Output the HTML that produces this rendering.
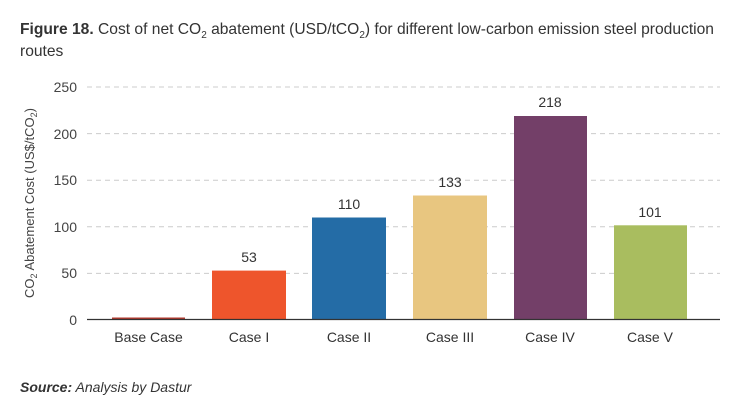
<!DOCTYPE html>
<html><head><meta charset="utf-8"><style>
html,body{margin:0;padding:0;background:#fff;}
svg{display:block;font-family:"Liberation Sans",sans-serif;}
</style></head><body>
<svg width="743" height="414" viewBox="0 0 743 414" xmlns="http://www.w3.org/2000/svg">
<text x="20" y="34" font-size="15.6" fill="#333" textLength="694" lengthAdjust="spacingAndGlyphs"><tspan font-weight="bold">Figure 18.</tspan> Cost of net CO<tspan font-size="10" dy="4">2</tspan><tspan dy="-4"> abatement (USD/tCO</tspan><tspan font-size="10" dy="4">2</tspan><tspan dy="-4">) for different low-carbon emission steel production</tspan></text>
<text x="20" y="56" font-size="15.6" fill="#333">routes</text>
<g stroke="#ccc" stroke-dasharray="5,4" stroke-width="1">
<line x1="87" x2="720" y1="87" y2="87"/>
<line x1="87" x2="720" y1="133.6" y2="133.6"/>
<line x1="87" x2="720" y1="180.2" y2="180.2"/>
<line x1="87" x2="720" y1="226.8" y2="226.8"/>
<line x1="87" x2="720" y1="273.4" y2="273.4"/>
</g>
<g font-size="14" fill="#444" text-anchor="end">
<text x="77" y="92">250</text>
<text x="77" y="139">200</text>
<text x="77" y="185">150</text>
<text x="77" y="232">100</text>
<text x="77" y="278">50</text>
<text x="77" y="325">0</text>
</g>
<text transform="translate(34,203) rotate(-90)" font-size="13" fill="#444" text-anchor="middle">CO<tspan font-size="9" dy="3">2</tspan><tspan dy="-3"> Abatement Cost (US$/tCO</tspan><tspan font-size="9" dy="3">2</tspan><tspan dy="-3">)</tspan></text>
<rect x="112" y="317.5" width="73" height="2" fill="#b03a2e"/>
<rect x="212" y="270.6" width="74" height="49" fill="#ee552c"/>
<rect x="312" y="217.5" width="74" height="102" fill="#246ca6"/>
<rect x="413" y="195.5" width="74" height="124" fill="#e8c680"/>
<rect x="514" y="116" width="73" height="203.5" fill="#733f68"/>
<rect x="614" y="225.3" width="73" height="94.2" fill="#a9bd5f"/>
<line x1="87" x2="720" y1="319.5" y2="319.5" stroke="#333" stroke-width="1.3"/>
<g font-size="14" fill="#333" text-anchor="middle">
<text x="249" y="262">53</text>
<text x="349" y="209">110</text>
<text x="450" y="187">133</text>
<text x="550" y="107">218</text>
<text x="650" y="217">101</text>
<text x="148.5" y="342">Base Case</text>
<text x="249" y="342">Case I</text>
<text x="349" y="342">Case II</text>
<text x="450" y="342">Case III</text>
<text x="550" y="342">Case IV</text>
<text x="650" y="342">Case V</text>
</g>
<text x="20" y="392" font-size="14" fill="#333" font-style="italic"><tspan font-weight="bold">Source:</tspan> Analysis by Dastur</text>
</svg>
</body></html>
